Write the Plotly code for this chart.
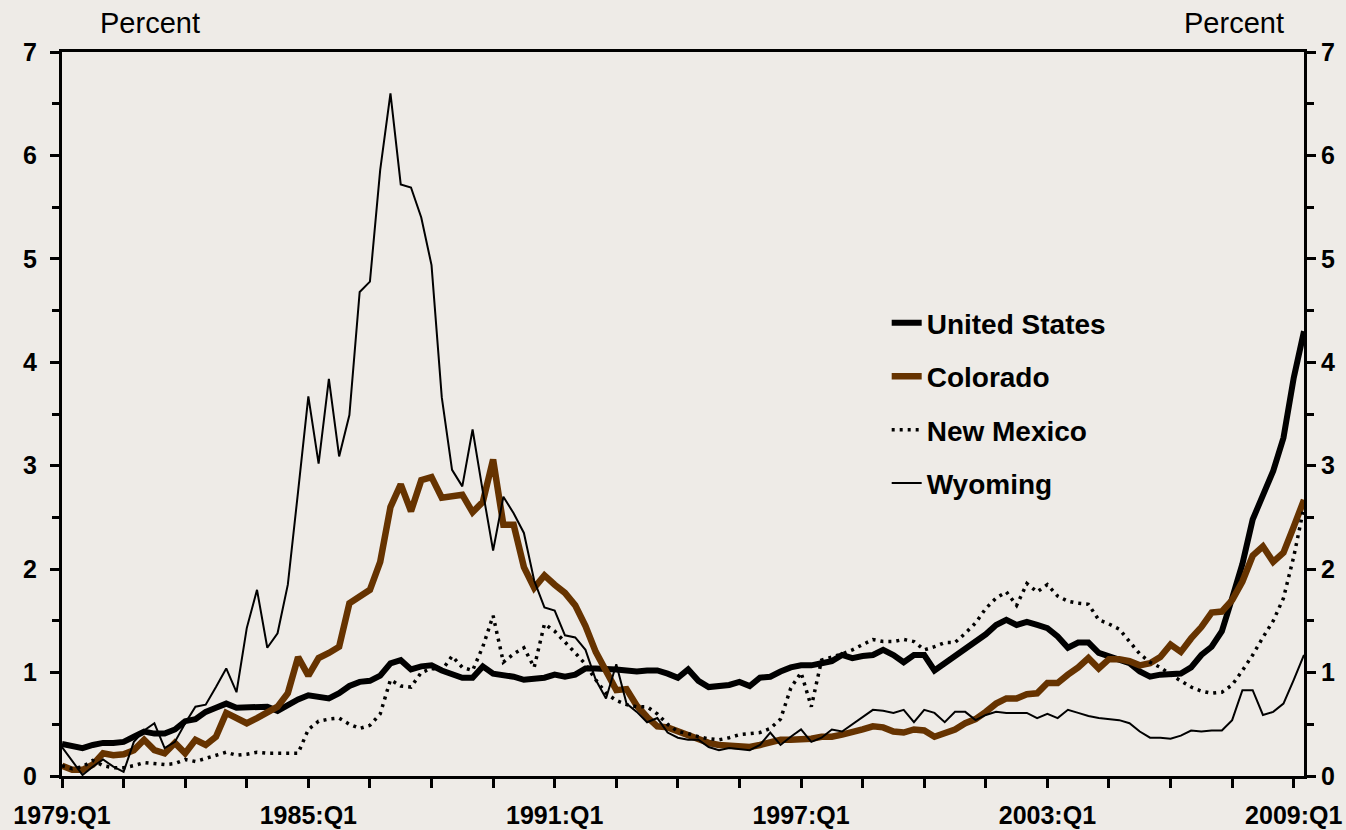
import plotly.graph_objects as go

# quarterly labels 1979:Q1 .. 2009:Q2
quarters = [f"{y}:Q{q}" for y in range(1979, 2010) for q in range(1, 5)][:122]

us = [.31, .29, .27, .30, .32, .32, .33, .38, .43, .41,
      .41, .45, .53, .55, .62, .66, .70, .66, .66, .66,
      .67, .63, .69, .74, .78, .76, .75, .80, .87, .91,
      .92, .97, 1.09, 1.12, 1.03, 1.06, 1.07, 1.02, .99, .95,
      .95, 1.06, .99, .98, .96, .93, .94, .95, .98, .96,
      .98, 1.04, 1.04, 1.04, 1.03, 1.02, 1.01, 1.02, 1.02, .99,
      .95, 1.03, .92, .86, .87, .88, .91, .87, .95, .96,
      1.01, 1.05, 1.07, 1.07, 1.09, 1.11, 1.17, 1.14, 1.16, 1.17,
      1.22, 1.17, 1.10, 1.17, 1.17, 1.02, 1.09, 1.16, 1.22, 1.30,
      1.37, 1.46, 1.51, 1.46, 1.49, 1.46, 1.43, 1.35, 1.24, 1.29,
      1.29, 1.19, 1.16, 1.13, 1.09, 1.01, .96, .98, .98, .99,
      1.05, 1.17, 1.25, 1.40, 1.72, 2.05, 2.48, 2.70, 2.95, 3.27,
      3.85, 4.30]

colorado = [.10, .06, .06, .11, .22, .20, .21, .25, .35, .25,
            .22, .32, .22, .35, .30, .38, .61, .56, .51, .56,
            .62, .67, .80, 1.15, .97, 1.14, 1.19, 1.25, 1.67, 1.73,
            1.80, 2.07, 2.60, 2.82, 2.56, 2.86, 2.89, 2.69, 2.71, 2.72,
            2.55, 2.65, 3.06, 2.43, 2.43, 2.02, 1.82, 1.94, 1.85, 1.77,
            1.65, 1.45, 1.20, 1.00, .83, .84, .68, .57, .48, .47,
            .43, .39, .35, .32, .30, .29, .28, .28, .30, .33,
            .35, .35, .35, .36, .38, .38, .40, .42, .45, .48,
            .47, .43, .42, .45, .44, .38, .41, .45, .51, .55,
            .62, .70, .75, .75, .79, .80, .90, .90, .98, 1.05,
            1.14, 1.04, 1.13, 1.13, 1.11, 1.07, 1.09, 1.15, 1.27, 1.20,
            1.33, 1.44, 1.58, 1.59, 1.70, 1.88, 2.13, 2.22, 2.07, 2.16,
            2.41, 2.67]

new_mexico = [.10, .07, .09, .15, .10, .08, .08, .10, .13, .12,
              .11, .12, .16, .14, .17, .20, .23, .20, .21, .23,
              .22, .22, .22, .22, .45, .53, .55, .56, .50, .46,
              .49, .60, .93, .87, .86, 1.00, 1.04, 1.02, 1.16, 1.05,
              1.02, 1.25, 1.55, 1.10, 1.18, 1.24, 1.05, 1.47, 1.40, 1.30,
              1.19, 1.08, .93, .80, .73, .69, .67, .67, .60, .50,
              .43, .41, .38, .36, .35, .37, .40, .41, .42, .46,
              .55, .85, 1.00, .67, 1.12, 1.15, 1.18, 1.22, 1.27, 1.32,
              1.30, 1.30, 1.32, 1.30, 1.22, 1.25, 1.29, 1.29, 1.38, 1.48,
              1.62, 1.72, 1.78, 1.65, 1.86, 1.78, 1.85, 1.74, 1.69, 1.67,
              1.66, 1.51, 1.47, 1.42, 1.30, 1.18, 1.10, 1.05, .98, .92,
              .86, .82, .80, .81, .88, 1.02, 1.17, 1.34, 1.50, 1.72,
              2.12, 2.60]

wyoming = [.28, .14, .01, .09, .16, .09, .04, .33, .44, .51,
           .27, .33, .51, .67, .69, .86, 1.04, .81, 1.43, 1.80,
           1.24, 1.38, 1.85, 2.75, 3.67, 3.02, 3.84, 3.09, 3.49, 4.68,
           4.78, 5.86, 6.60, 5.72, 5.69, 5.40, 4.94, 3.66, 2.96, 2.80,
           3.35, 2.75, 2.18, 2.70, 2.54, 2.35, 1.89, 1.63, 1.60, 1.36,
           1.34, 1.22, .93, .75, 1.08, .70, .62, .52, .56, .42,
           .37, .35, .35, .28, .25, .27, .26, .25, .30, .42,
           .30, .38, .45, .33, .37, .45, .43, .50, .57, .64,
           .63, .61, .64, .52, .64, .61, .52, .62, .62, .54,
           .59, .62, .61, .61, .61, .56, .60, .56, .64, .61,
           .58, .56, .55, .54, .51, .43, .37, .37, .36, .39,
           .44, .43, .44, .44, .54, .83, .83, .59, .62, .70,
           .93, 1.17]

label_quarters = ["1979:Q1", "1985:Q1", "1991:Q1", "1997:Q1", "2003:Q1", "2009:Q1"]

BG = "#eeebe7"
BROWN = "#663300"
FONT = "Arial, Liberation Sans, sans-serif"

fig = go.Figure()
fig.add_trace(go.Scatter(x=quarters, y=us, name="United States", legendgroup="a",
                         mode="lines", line=dict(color="black", width=6)))
fig.add_trace(go.Scatter(x=quarters, y=colorado, name="Colorado", legendgroup="b",
                         mode="lines", line=dict(color=BROWN, width=6.5)))
fig.add_trace(go.Scatter(x=quarters, y=new_mexico, name="New Mexico", legendgroup="c",
                         mode="lines", line=dict(color="black", width=3.5, dash="3px,5px")))
# Wyoming sits on the right-hand axis (same 0-7 scale) so that axis gets its labels
fig.add_trace(go.Scatter(x=quarters, y=wyoming, name="Wyoming", legendgroup="d", yaxis="y2",
                         mode="lines", line=dict(color="black", width=2)))

# tick every 6 quarters, label every 24
tick_vals = quarters[0:121:6]
tick_text = [q if q in label_quarters else "" for q in tick_vals]

axis_font = dict(family=FONT, size=25, color="black", weight="bold")

fig.update_layout(
    width=1346, height=830,
    paper_bgcolor=BG, plot_bgcolor=BG,
    margin=dict(l=62, r=42, t=52, b=54),
    showlegend=True,
    legend=dict(x=0.664, y=0.66, xanchor="left", yanchor="top",
                bgcolor="rgba(0,0,0,0)", tracegroupgap=14,
                font=dict(family=FONT, size=28, color="black", weight="bold")),
    xaxis=dict(type="category", categoryorder="array", categoryarray=quarters,
               range=[0, 121], tickmode="array", tickvals=tick_vals, ticktext=tick_text,
               ticks="outside", ticklen=9, tickwidth=2.5, tickcolor="black",
               showline=True, linewidth=3, linecolor="black", mirror=True,
               showgrid=False, zeroline=False, tickangle=0, automargin=False,
               tickfont=axis_font, ticklabelstandoff=6),
    yaxis=dict(range=[0, 7], dtick=1, ticks="outside", ticklen=9, tickwidth=2.5,
               tickcolor="black", showline=True, linewidth=3, linecolor="black",
               showgrid=False, zeroline=False, tickfont=axis_font, automargin=False,
               ticklabelstandoff=8,
               minor=dict(dtick=0.5, ticks="outside", ticklen=7, tickwidth=2.5,
                          tickcolor="black", showgrid=False)),
    yaxis2=dict(range=[0, 7], dtick=1, overlaying="y", side="right", anchor="x",
                ticks="outside", ticklen=9, tickwidth=2.5, tickcolor="black",
                showline=True, linewidth=3, linecolor="black", automargin=False,
                showgrid=False, zeroline=False, tickfont=axis_font,
                ticklabelstandoff=0,
                minor=dict(dtick=0.5, ticks="outside", ticklen=7, tickwidth=2.5,
                           tickcolor="black", showgrid=False)),
    annotations=[
        dict(text="Percent", xref="paper", yref="paper", x=0.0709, y=1.04,
             xanchor="center", yanchor="middle", showarrow=False,
             font=dict(family=FONT, size=29, color="black")),
        dict(text="Percent", xref="paper", yref="paper", x=0.9436, y=1.04,
             xanchor="center", yanchor="middle", showarrow=False,
             font=dict(family=FONT, size=29, color="black")),
    ],
)

fig.write_html("out.html", config={"displayModeBar": False},
               post_script="document.body.style.margin='0';")
